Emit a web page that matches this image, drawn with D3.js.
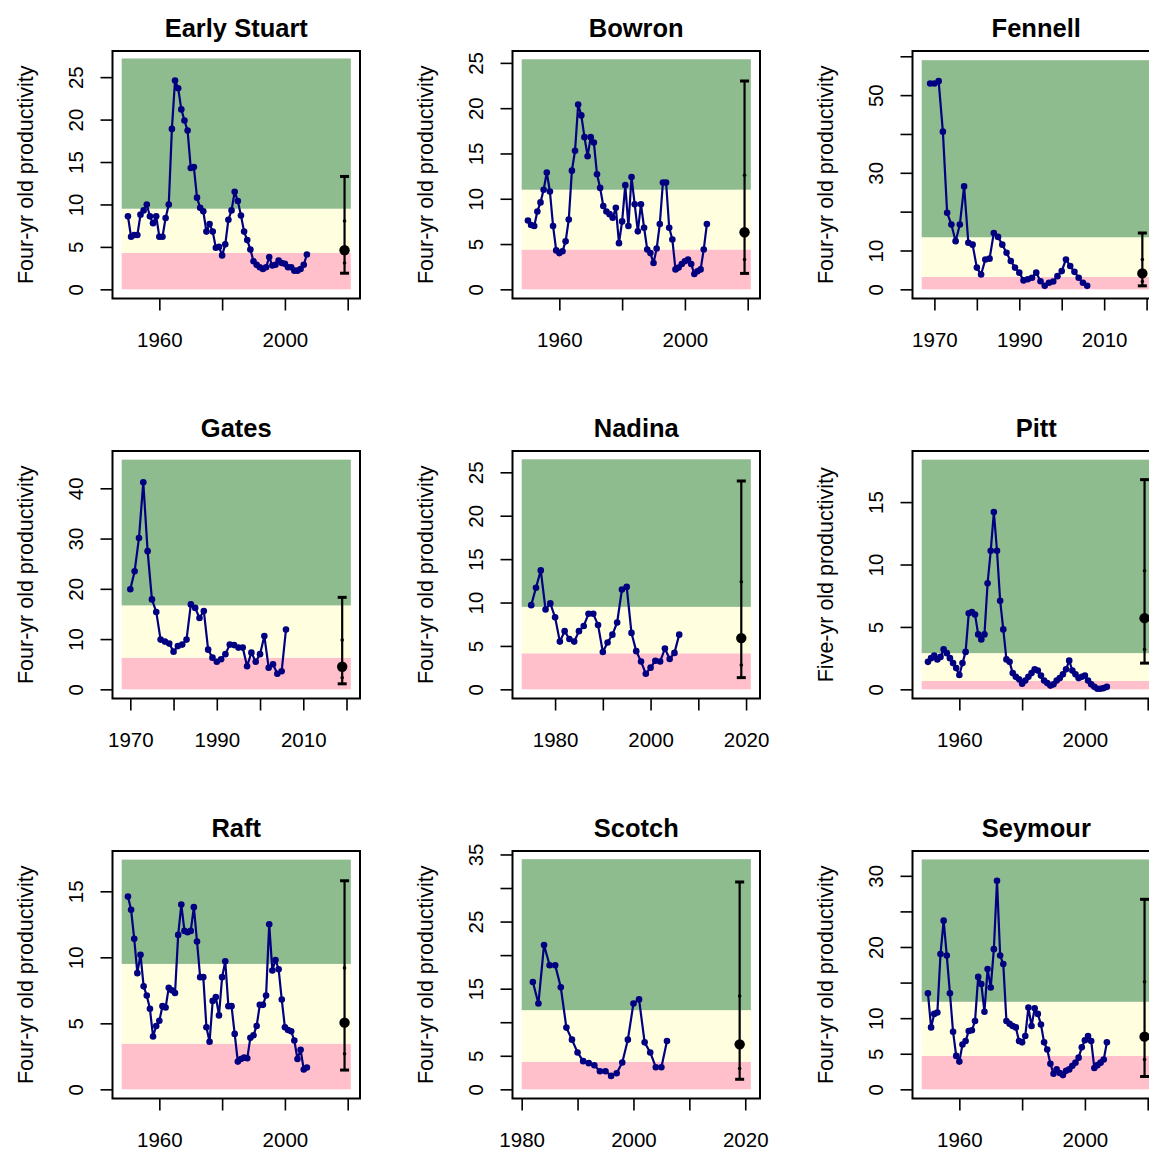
<!DOCTYPE html>
<html>
<head>
<meta charset="utf-8">
<script src="https://cdn.jsdelivr.net/npm/d3@7"></script>
<style>
  body { margin: 0; background: #fff; }
  svg { display: block; font-family: "Liberation Sans", Arial, sans-serif; }
</style>
</head>
<body>
<svg id="chart" width="1149" height="1149"></svg>
<script>
// stocks, in panel order (3 x 3)
const STOCKS = ["Early Stuart", "Bowron", "Fennell", "Gates", "Nadina", "Pitt", "Raft", "Scotch", "Seymour"];
const Y_TITLES = ["Four-yr old productivity", "Four-yr old productivity", "Four-yr old productivity",
                  "Four-yr old productivity", "Four-yr old productivity", "Five-yr old productivity",
                  "Four-yr old productivity", "Four-yr old productivity", "Four-yr old productivity"];
const FIRST_YEAR = [1950, 1950, 1969, 1970, 1975, 1950, 1950, 1982, 1950];

// productivity by brood year, starting at FIRST_YEAR
const earlyStuart = [8.6, 6.2, 6.4, 6.4, 8.8, 9.3, 10.0, 8.6, 7.8, 8.6,
  6.2, 6.2, 8.4, 10.0, 18.9, 24.6, 23.7, 21.2, 19.9, 18.7,
  14.3, 14.4, 10.8, 9.6, 9.2, 6.8, 7.7, 6.8, 4.9, 5.0,
  4.0, 5.3, 8.2, 9.3, 11.5, 10.4, 8.7, 6.8, 5.8, 4.7,
  3.3, 2.9, 2.6, 2.4, 2.6, 3.8, 2.8, 2.9, 3.4, 3.1,
  3.0, 2.6, 2.6, 2.2, 2.2, 2.4, 2.9, 4.1];
const bowron = [7.6, 7.1, 7.0, 8.6, 9.6, 11.0, 12.9, 10.8, 7.0, 4.3,
  4.0, 4.2, 5.3, 7.7, 13.1, 15.3, 20.4, 19.2, 16.8, 14.7,
  16.8, 16.2, 12.7, 11.2, 9.2, 8.6, 8.3, 7.9, 9.0, 5.1,
  7.5, 11.5, 7.0, 12.4, 9.4, 6.4, 9.4, 6.8, 4.4, 4.0,
  2.9, 4.5, 7.2, 11.8, 11.8, 6.8, 5.5, 2.2, 2.4, 2.8,
  3.1, 3.3, 2.8, 1.7, 2.0, 2.2, 4.4, 7.2];
const fennell = [53.0, 53.0, 53.6, 40.6, 19.7, 16.7, 12.4, 16.7, 26.5, 12.0,
  11.5, 5.6, 3.8, 7.7, 7.9, 14.5, 13.5, 11.5, 9.4, 7.3,
  5.6, 4.3, 2.3, 2.6, 3.0, 4.3, 2.1, 0.9, 1.7, 2.0,
  3.4, 4.7, 7.7, 6.0, 4.5, 3.0, 1.7, 0.9];
const gates = [19.9, 23.5, 30.1, 41.2, 27.5, 17.9, 15.4, 9.9, 9.5, 9.1,
  7.5, 8.6, 8.9, 9.9, 16.9, 16.2, 14.2, 15.6, 7.9, 6.3,
  5.5, 6.0, 7.0, 8.9, 8.8, 8.3, 8.3, 4.6, 7.3, 5.5,
  7.0, 10.6, 4.3, 5.0, 3.1, 3.6, 11.9];
const nadina = [9.7, 11.7, 13.7, 9.2, 9.9, 8.3, 5.5, 6.7, 5.8, 5.5,
  6.7, 7.3, 8.7, 8.7, 7.4, 4.3, 5.4, 6.3, 7.7, 11.5,
  11.8, 6.5, 4.4, 3.2, 1.8, 2.5, 3.3, 3.2, 4.7, 3.5,
  4.2, 6.3];
const pitt = [2.2, 2.5, 2.7, 2.4, 2.6, 3.2, 2.9, 2.5, 2.1, 1.7,
  1.15, 2.1, 3.0, 6.1, 6.2, 6.0, 4.4, 4.0, 4.4, 8.5,
  11.1, 14.2, 11.1, 7.1, 4.8, 2.4, 2.2, 1.3, 1.0, 0.8,
  0.45, 0.7, 1.0, 1.3, 1.6, 1.5, 1.1, 0.7, 0.5, 0.3,
  0.4, 0.7, 0.9, 1.2, 1.6, 2.3, 1.5, 1.2, 0.9, 1.0,
  1.1, 0.7, 0.4, 0.2, 0.05, 0.05, 0.1, 0.2];
const raft = [14.6, 13.6, 11.4, 8.8, 10.2, 7.8, 7.1, 6.1, 4.0, 4.8,
  5.2, 6.3, 6.2, 7.7, 7.5, 7.3, 11.7, 14.0, 12.0, 11.9,
  12.0, 13.8, 11.2, 8.5, 8.5, 4.7, 3.6, 6.7, 7.0, 5.6,
  8.5, 9.7, 6.3, 6.3, 4.2, 2.1, 2.3, 2.4, 2.35, 3.9,
  4.1, 4.8, 6.4, 6.4, 7.1, 12.5, 9.0, 9.8, 9.1, 6.8,
  4.7, 4.5, 4.4, 3.7, 2.3, 3.0, 1.5, 1.65];
const scotch = [16.0, 12.8, 21.5, 18.5, 18.5, 15.2, 9.2, 7.4, 5.5, 4.2,
  3.9, 3.6, 2.7, 2.7, 2.0, 2.4, 4.0, 7.4, 12.8, 13.4,
  7.0, 5.5, 3.3, 3.3, 7.2];
const seymour = [13.5, 8.7, 10.6, 10.8, 19.0, 23.7, 18.8, 13.5, 8.1, 4.7,
  3.9, 6.3, 6.8, 8.2, 8.3, 9.6, 15.8, 14.8, 10.9, 16.9,
  14.3, 19.7, 29.3, 18.8, 17.6, 9.6, 9.2, 8.9, 8.7, 6.8,
  6.6, 7.5, 11.5, 8.9, 11.4, 10.6, 9.1, 6.6, 5.6, 3.6,
  2.2, 2.8, 2.3, 2.0, 2.6, 2.8, 3.3, 3.75, 4.45, 5.9,
  6.9, 7.5, 6.8, 3.0, 3.4, 3.75, 4.2, 6.6];
const SERIES = [earlyStuart, bowron, fennell, gates, nadina, pitt, raft, scotch, seymour];

// projected distribution shown at the right of each panel
const ERR_YEAR = 2019;
const ERR_LOW  = [1.9, 1.76, 0.9, 1.1, 1.35, 2.1, 1.46, 1.5, 1.8];
const ERR_Q25  = [3.1, 3.3, 2.0, 2.3, 2.8, 3.2, 2.7, 3.1, 4.2];
const ERR_MED  = [4.6, 6.3, 4.1, 4.5, 5.9, 5.7, 5.05, 6.7, 7.4];
const ERR_Q75  = [8.05, 12.6, 7.7, 9.8, 12.4, 9.5, 9.2, 13.9, 15.1];
const ERR_HIGH = [13.3, 23.0, 14.5, 18.3, 24.0, 16.8, 15.8, 30.9, 26.7];

// red / yellow / green zones
const BAND_LOW  = [4.3, 4.4, 3.2, 6.3, 4.15, 0.67, 3.46, 4.1, 4.7];
const BAND_HIGH = [9.5, 11.0, 13.4, 16.7, 9.5, 2.9, 9.5, 11.8, 12.3];
const BAND_TOP  = [27.2, 25.4, 59.0, 45.7, 26.5, 18.4, 17.4, 34.3, 32.3];

// axis limits and ticks
const Y_MAX = [27.0, 25.3, 59.0, 45.6, 26.4, 18.36, 17.36, 34.15, 32.2];
const X_MAX = 2021;
const Y_TICKS = [
  [0, 5, 10, 15, 20, 25], [0, 5, 10, 15, 20, 25], [0, 10, 20, 30, 40, 50, 60],
  [0, 10, 20, 30, 40], [0, 5, 10, 15, 20, 25], [0, 5, 10, 15],
  [0, 5, 10, 15], [0, 5, 10, 15, 20, 25, 30, 35], [0, 5, 10, 15, 20, 25, 30]];
const Y_LABELS = [
  [0, 5, 10, 15, 20, 25], [0, 5, 10, 15, 20, 25], [0, 10, 30, 50],
  [0, 10, 20, 30, 40], [0, 5, 10, 15, 20, 25], [0, 5, 10, 15],
  [0, 5, 10, 15], [0, 5, 15, 25, 35], [0, 5, 10, 20, 30]];
const X_TICKS = [
  [1960, 1980, 2000, 2020], [1960, 1980, 2000, 2020], [1970, 1980, 1990, 2000, 2010, 2020],
  [1970, 1980, 1990, 2000, 2010, 2020], [1980, 1990, 2000, 2010, 2020], [1960, 1980, 2000, 2020],
  [1960, 1980, 2000, 2020], [1980, 1990, 2000, 2010, 2020], [1960, 1980, 2000, 2020]];
const X_LABELS = [
  [1960, 2000], [1960, 2000], [1970, 1990, 2010],
  [1970, 1990, 2010], [1980, 2000, 2020], [1960, 2000],
  [1960, 2000], [1980, 2000, 2020], [1960, 2000]];

const PANEL = 400;
const box = {left: 112.5, right: 360, top: 51, bottom: 298.5};
const LINE_COL = "#000080";

const svg = d3.select("#chart");
svg.append("rect").attr("width", 1149).attr("height", 1149).attr("fill", "#fff");

STOCKS.forEach((name, i) => {
  const col = i % 3, row = Math.floor(i / 3);
  const g = svg.append("g").attr("transform", `translate(${col * PANEL},${row * PANEL})`);

  const x0 = FIRST_YEAR[i] - 2, xr = X_MAX - x0;
  const x = d3.scaleLinear()
    .domain([x0 - 0.04 * xr, X_MAX + 0.04 * xr])
    .range([box.left, box.right]);
  const T = Y_MAX[i];
  const y = d3.scaleLinear()
    .domain([-0.04 * T, 1.04 * T])
    .range([box.bottom, box.top]);

  // zones
  const bands = [
    {lo: 0, hi: BAND_LOW[i], fill: "#FFC0CB"},
    {lo: BAND_LOW[i], hi: BAND_HIGH[i], fill: "#FFFFE0"},
    {lo: BAND_HIGH[i], hi: BAND_TOP[i], fill: "#8FBC8F"}
  ];
  g.append("g").selectAll("rect").data(bands).join("rect")
    .attr("x", x(x0))
    .attr("width", x(X_MAX) - x(x0))
    .attr("y", d => y(d.hi))
    .attr("height", d => y(d.lo) - y(d.hi))
    .attr("fill", d => d.fill);

  // series
  const pts = SERIES[i].map((v, k) => ({year: FIRST_YEAR[i] + k, v}));
  g.append("path").datum(pts)
    .attr("fill", "none")
    .attr("stroke", LINE_COL)
    .attr("stroke-width", 2.2)
    .attr("stroke-linejoin", "round")
    .attr("d", d3.line().x(d => x(d.year)).y(d => y(d.v)));
  g.append("g").selectAll("circle").data(pts).join("circle")
    .attr("cx", d => x(d.year))
    .attr("cy", d => y(d.v))
    .attr("r", 3.3)
    .attr("fill", LINE_COL);

  // error bar
  const ex = x(ERR_YEAR);
  const eb = g.append("g").attr("stroke", "#000").attr("fill", "#000");
  eb.append("line").attr("x1", ex).attr("x2", ex)
    .attr("y1", y(ERR_LOW[i])).attr("y2", y(ERR_HIGH[i])).attr("stroke-width", 2.2);
  [ERR_LOW[i], ERR_HIGH[i]].forEach(v => {
    eb.append("line").attr("x1", ex - 4.5).attr("x2", ex + 4.5)
      .attr("y1", y(v)).attr("y2", y(v)).attr("stroke-width", 3);
  });
  [ERR_Q25[i], ERR_Q75[i]].forEach(v => {
    eb.append("circle").attr("cx", ex).attr("cy", y(v)).attr("r", 1.8).attr("stroke", "none");
  });
  eb.append("circle").attr("cx", ex).attr("cy", y(ERR_MED[i])).attr("r", 5.2).attr("stroke", "none");

  // axes
  const yl = Y_LABELS[i];
  const ya = g.append("g").attr("transform", `translate(${box.left},0)`)
    .call(d3.axisLeft(y).tickValues(Y_TICKS[i]).tickSize(12)
      .tickFormat(d => yl.includes(d) ? d : ""));
  ya.select(".domain").remove();
  ya.selectAll("line").attr("stroke", "#000").attr("stroke-width", 1.6);
  ya.selectAll("text")
    .attr("x", null).attr("dy", null)
    .attr("fill", "#000")
    .attr("font-size", 20.5)
    .attr("text-anchor", "middle")
    .attr("transform", `translate(${83 - box.left},0) rotate(-90)`);

  const xl = X_LABELS[i];
  const xa = g.append("g").attr("transform", `translate(0,${box.bottom})`)
    .call(d3.axisBottom(x).tickValues(X_TICKS[i]).tickSize(12)
      .tickFormat(d => xl.includes(d) ? d : ""));
  xa.select(".domain").remove();
  xa.selectAll("line").attr("stroke", "#000").attr("stroke-width", 1.6);
  xa.selectAll("text")
    .attr("y", 48).attr("dy", null)
    .attr("fill", "#000")
    .attr("font-size", 20.5);

  ya.attr("font-family", null);
  xa.attr("font-family", null);

  // frame
  g.append("rect")
    .attr("x", box.left).attr("y", box.top)
    .attr("width", box.right - box.left).attr("height", box.bottom - box.top)
    .attr("fill", "none").attr("stroke", "#000").attr("stroke-width", 2);

  // title and y label
  g.append("text")
    .attr("x", (box.left + box.right) / 2).attr("y", 37)
    .attr("text-anchor", "middle")
    .attr("font-weight", "bold")
    .attr("font-size", 25.5)
    .text(name);
  g.append("text")
    .attr("transform", `translate(33,${(box.top + box.bottom) / 2}) rotate(-90)`)
    .attr("text-anchor", "middle")
    .attr("font-size", 21.5)
    .text(Y_TITLES[i]);
});
</script>
</body>
</html>
